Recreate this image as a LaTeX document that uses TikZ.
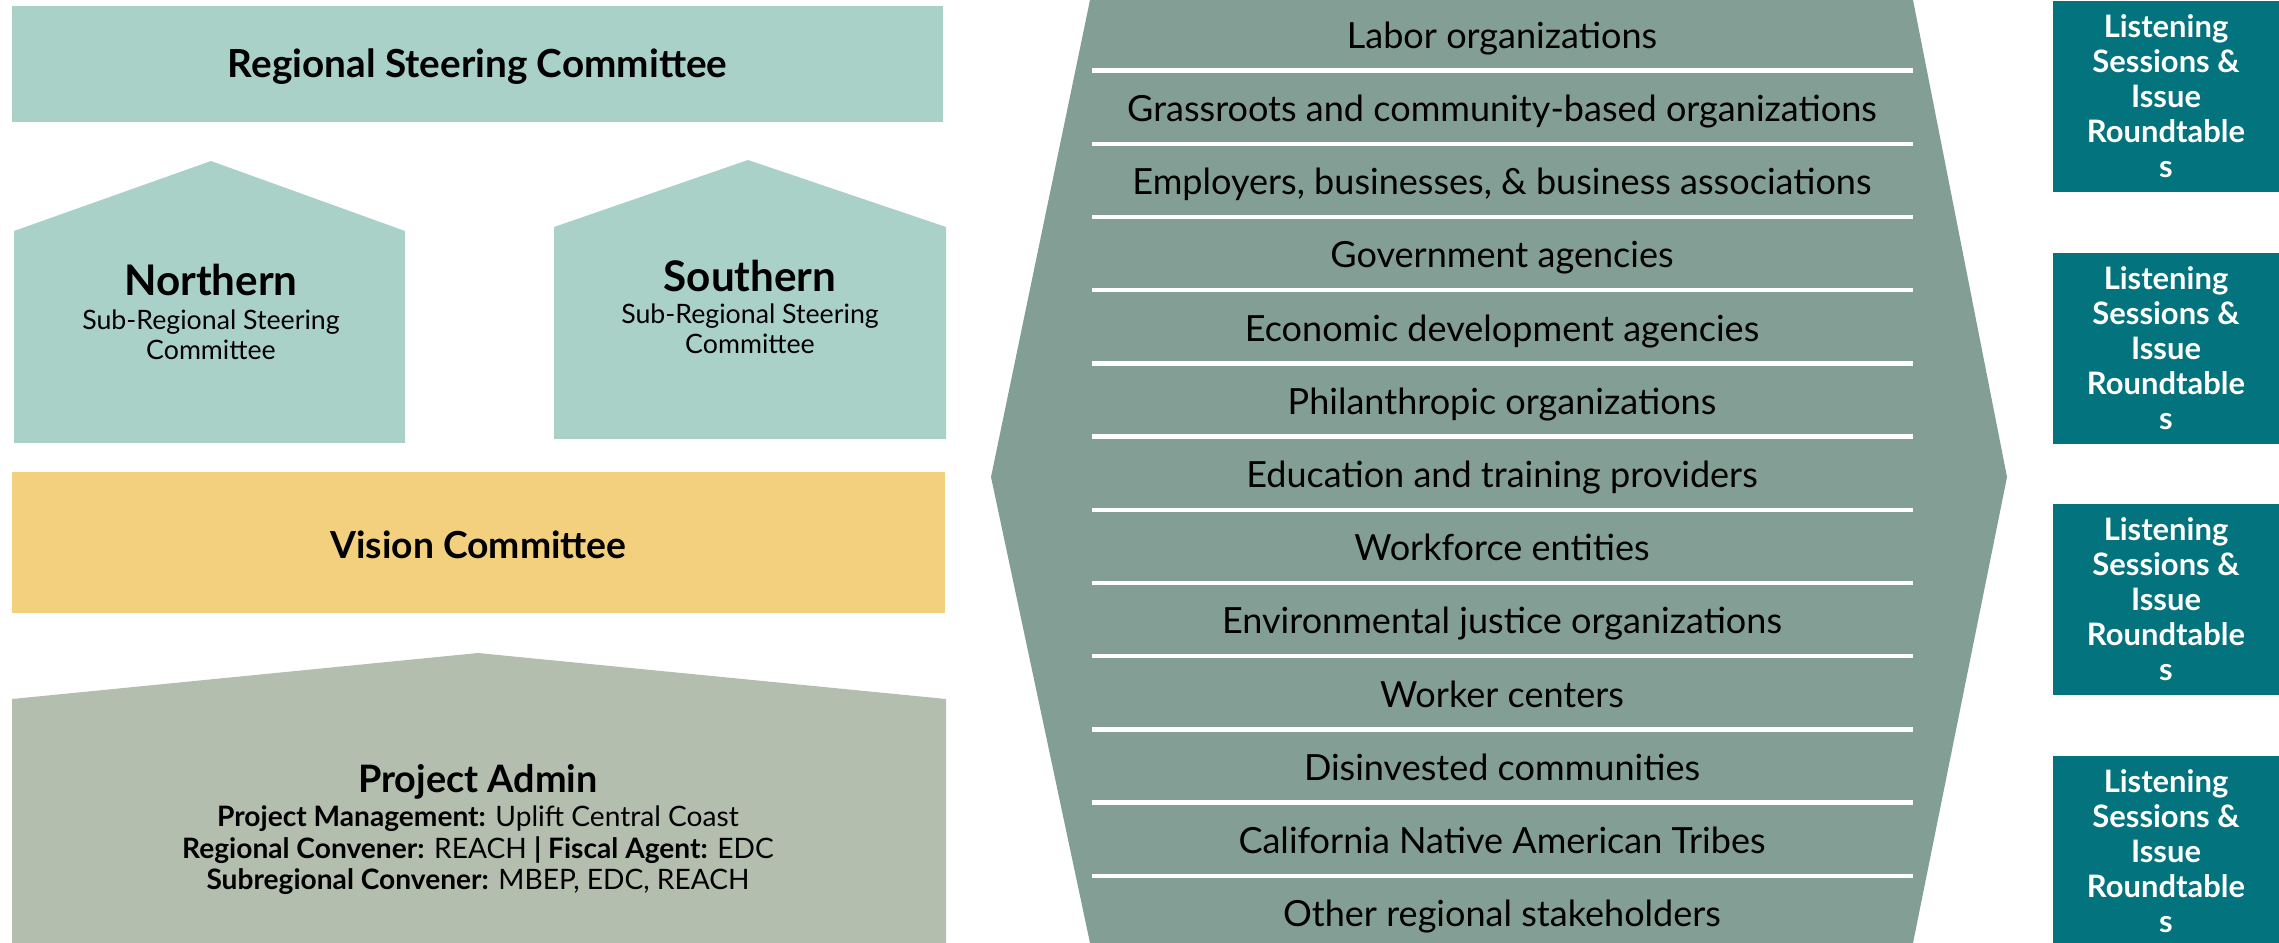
\documentclass[tikz,border=0pt]{standalone}
\usepackage{fontspec}
\setmainfont{Lato}
\usepackage{tikz}
\usetikzlibrary{positioning}
\definecolor{steer}{HTML}{AAD1C8}
\definecolor{vision}{HTML}{F2D07E}
\definecolor{admin}{HTML}{B4BEAF}
\definecolor{funnel}{HTML}{829E95}
\definecolor{listen}{HTML}{03737E}

\begin{document}
\begin{tikzpicture}[x=0.01cm, y=-0.01cm,
  panel/.style={rectangle, inner sep=0pt, text=black},
  group/.style={rectangle, inner sep=0pt, text height=0.75em, text depth=0.22em, font=\fontsize{10.25}{12}\selectfont},
  subtext/.style={rectangle, inner sep=0pt, align=center, font=\fontsize{7.6}{8.6}\selectfont},
  session/.style={rectangle, fill=listen, text=white, inner sep=0pt, minimum width=2.26cm, minimum height=1.91cm, align=center, font=\bfseries\fontsize{8.8}{9.96}\selectfont},
  sep/.style={draw=white, line width=1.3pt}]
\useasboundingbox (0,0) rectangle (2279,943);

% left column
\node [panel, fill=steer, minimum width=9.31cm, minimum height=1.16cm, font=\bfseries\fontsize{11}{13}\selectfont] (RSC) at (477.5,64) {};
\node [panel, font=\bfseries\fontsize{11}{13}\selectfont] (RSCtext) at (477.5,67) {Regional Steering Committee};
\fill [steer] (14,231) -- (211,161) -- (405,231) -- (405,443) -- (14,443) -- cycle;
\fill [steer] (554,227) -- (748,160) -- (946,227) -- (946,439) -- (554,439) -- cycle;
\node [panel, font=\bfseries\fontsize{12}{14}\selectfont] (North) at (211,280) {Northern};
\node [subtext, below=3.6pt of North] (NorthSub) {Sub-Regional Steering\\Committee};
\node [panel, font=\bfseries\fontsize{12}{14}\selectfont] (South) at (750,276) {Southern};
\node [subtext, below=3pt of South] (SouthSub) {Sub-Regional Steering\\Committee};
\node [panel, fill=vision, minimum width=9.33cm, minimum height=1.41cm] (Vision) at (478.5,542.5) {};
\node [panel, font=\bfseries\fontsize{10.6}{13}\selectfont] (VisionText) at (478.5,544.5) {Vision Committee};
\fill [admin] (12,699) -- (478,653) -- (946,699) -- (946,943) -- (12,943) -- cycle;
\node [panel, font=\bfseries\fontsize{10.75}{13}\selectfont] (Admin) at (478,782) {Project Admin};
\node [subtext, below=1.5pt of Admin, font=\fontsize{8}{8.9}\selectfont] (AdminSub) {\textbf{Project Management:} Uplift Central Coast\\
  \textbf{Regional Convener:} REACH \textbf{| Fiscal Agent:} EDC\\
  \textbf{Subregional Convener:} MBEP, EDC, REACH};

% stakeholder funnel
\fill [funnel] (1090,0) -- (1913,0) -- (2007,477) -- (1913,943) -- (1090,943) -- (991,477) -- cycle;
\node [group] (Labor) at (1502,39) {Labor organizations};
\node [group] (Grass) at (1502,112.2) {Grassroots and community-based organizations};
\node [group] (Employ) at (1502,185.4) {Employers, businesses, \& business associations};
\node [group] (Gov) at (1502,258.6) {Government agencies};
\node [group] (Econ) at (1502,331.8) {Economic development agencies};
\node [group] (Phil) at (1502,405) {Philanthropic organizations};
\node [group] (Edu) at (1502,478.2) {Education and training providers};
\node [group] (Work) at (1502,551.4) {Workforce entities};
\node [group] (Env) at (1502,624.6) {Environmental justice organizations};
\node [group] (Centers) at (1502,697.8) {Worker centers};
\node [group] (Disinv) at (1502,771) {Disinvested communities};
\node [group] (Tribes) at (1502,844.2) {California Native American Tribes};
\node [group] (Other) at (1502,917.4) {Other regional stakeholders};
\draw [sep] (1092,70.6) -- (1913,70.6);
\draw [sep] (1092,143.8) -- (1913,143.8);
\draw [sep] (1092,217) -- (1913,217);
\draw [sep] (1092,290.2) -- (1913,290.2);
\draw [sep] (1092,363.4) -- (1913,363.4);
\draw [sep] (1092,436.6) -- (1913,436.6);
\draw [sep] (1092,509.8) -- (1913,509.8);
\draw [sep] (1092,583) -- (1913,583);
\draw [sep] (1092,656.2) -- (1913,656.2);
\draw [sep] (1092,729.4) -- (1913,729.4);
\draw [sep] (1092,802.6) -- (1913,802.6);
\draw [sep] (1092,875.8) -- (1913,875.8);

% listening sessions
\node [session] (LS1) at (2166,96.5) {Listening\\Sessions \&\\Issue\\Roundtable\\s};
\node [session] (LS2) at (2166,348.5) {Listening\\Sessions \&\\Issue\\Roundtable\\s};
\node [session] (LS3) at (2166,599.5) {Listening\\Sessions \&\\Issue\\Roundtable\\s};
\node [session] (LS4) at (2166,851.5) {Listening\\Sessions \&\\Issue\\Roundtable\\s};
\end{tikzpicture}
\end{document}
